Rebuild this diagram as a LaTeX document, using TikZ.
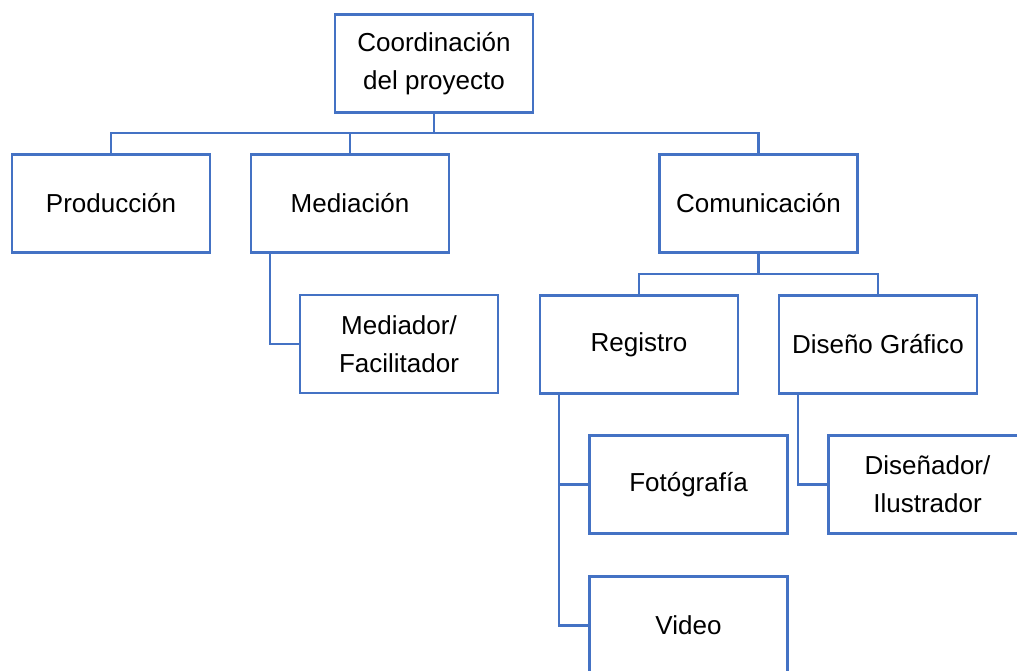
\documentclass[tikz,border=0pt]{standalone}
\usepackage{fontspec}
\setmainfont{Liberation Sans}
\definecolor{boxblue}{HTML}{4472C4}
\begin{document}
\begin{tikzpicture}[x=1pt,y=-1pt,
  orgbox/.style={draw=boxblue, line width=2.4pt, fill=white, minimum width=198pt, minimum height=98pt,
    inner sep=0pt, align=center, font=\fontsize{26}{38}\selectfont, text=black},
  conn/.style={draw=boxblue, line width=2.4pt}]
\useasboundingbox (0,0) rectangle (1017,670);
\clip (0,0) rectangle (1017,670);
\node[orgbox] (coord) at (434,63.5) {Coordinación\\del proyecto};
\node[orgbox] (prod) at (111,203.5) {Producción};
\node[orgbox] (med) at (350,203.5) {Mediación};
\node[orgbox] (com) at (758.5,203.5) {Comunicación};
\node[orgbox] (mdr) at (399,344) {Mediador/\\Facilitador};
\node[orgbox] (reg) at (639,344.5) {Registro};
\node[orgbox] (dis) at (878,344.5) {Diseño Gráfico};
\node[orgbox] (foto) at (688.5,484.5) {Fotógrafía};
\node[orgbox] (dsr) at (927.5,484.5) {Diseñador/\\Ilustrador};
\node[orgbox] (vid) at (688.5,625.5) {Video};
\coordinate (bus1) at (0,133);
\coordinate (bus2) at (0,274);
\draw[conn] (coord.south) -- (coord.south |- bus1) -| (prod.north);
\draw[conn] (coord.south |- bus1) -| (med.north);
\draw[conn] (coord.south |- bus1) -| (com.north);
\draw[conn] ([xshift=20pt]med.south west) |- (mdr.west);
\draw[conn] (com.south) -- (com.south |- bus2) -| (reg.north);
\draw[conn] (com.south |- bus2) -| (dis.north);
\draw[conn] ([xshift=20pt]reg.south west) |- (foto.west);
\draw[conn] ([xshift=20pt]reg.south west) |- (vid.west);
\draw[conn] ([xshift=20pt]dis.south west) |- (dsr.west);
\end{tikzpicture}
\end{document}
